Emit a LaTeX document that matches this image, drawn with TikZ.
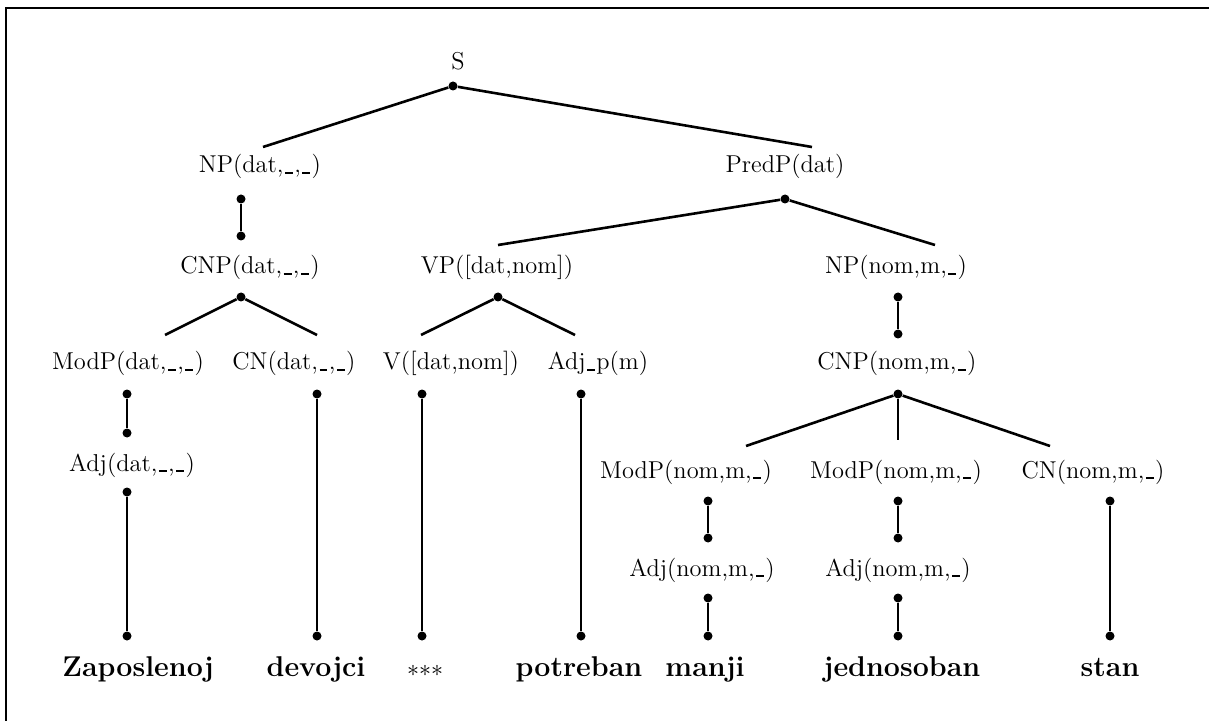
\documentclass[tikz,border=0pt]{standalone}
\newcommand\usc{\kern.06em\rule[-0.03em]{.32em}{.055em}\kern.06em}
\tikzset{
  lbl/.style={anchor=base, inner sep=0pt, font=\fontsize{12.2}{14}\selectfont},
  word/.style={anchor=base, inner sep=0pt, font=\fontsize{14.3}{17}\selectfont\bfseries},
  dotn/.style={circle, fill=black, inner sep=0pt, minimum size=4.5pt},
  edge/.style={line width=1.3pt},
  frame/.style={line width=1.1pt},
}
\begin{document}
\begin{tikzpicture}[x=0.5pt, y=-0.5pt]
\useasboundingbox (0,0) rectangle (1209,721);
% frame (top and left edges)
\coordinate (fTR) at (1209,8);
\coordinate (fTL) at (6,8);
\coordinate (fBL) at (6,721);
\draw[frame] (fTR) -- (fTL) -- (fBL);

% labels
\node[lbl] (S) at (458,70) {S};
\node[lbl] (NPd) at (260,173) {NP(dat,\usc,\usc)};
\node[lbl] (PredP) at (785,173) {PredP(dat)};
\node[lbl] (CNPd) at (250,274) {CNP(dat,\usc,\usc)};
\node[lbl] (VP) at (497,274) {VP([dat,nom])};
\node[lbl] (NPn) at (896,274) {NP(nom,m,\usc)};
\node[lbl] (ModPd) at (128,370) {ModP(dat,\usc,\usc)};
\node[lbl] (CNd) at (294,370) {CN(dat,\usc,\usc)};
\node[lbl] (V) at (451,370) {V([dat,nom])};
\node[lbl] (Adjp) at (598,370) {Adj\usc p(m)};
\node[lbl] (CNPn) at (897,370) {CNP(nom,m,\usc)};
\node[lbl] (Adjd) at (132,471) {Adj(dat,\usc,\usc)};
\node[lbl] (ModPa) at (686,478) {ModP(nom,m,\usc)};
\node[lbl] (ModPb) at (896,478) {ModP(nom,m,\usc)};
\node[lbl] (CNn) at (1093,478) {CN(nom,m,\usc)};
\node[lbl] (Adja) at (702,576) {Adj(nom,m,\usc)};
\node[lbl] (Adjb) at (898,576) {Adj(nom,m,\usc)};

% words
\node[word] (w1) at (138,676) {Zaposlenoj};
\node[word] (w2) at (316,676) {devojci};
\node[lbl]  (w3) at (425,676) {$\mathord{*}\mathord{*}\mathord{*}$};
\node[word] (w4) at (579,676) {potreban};
\node[word] (w5) at (705,676) {manji};
\node[word] (w6) at (902,676) {jednosoban};
\node[word] (w7) at (1110,676) {stan};

% dots
\node[dotn] (dS) at (453,86) {};
\node[dotn] (dNPd1) at (241,199) {};
\node[dotn] (dNPd2) at (241,236) {};
\node[dotn] (dCNPd) at (241,297) {};
\node[dotn] (dModPd1) at (127,394) {};
\node[dotn] (dModPd2) at (127,433) {};
\node[dotn] (dAdjd1) at (127,492) {};
\node[dotn] (dAdjd2) at (127,636) {};
\node[dotn] (dCNd1) at (317,394) {};
\node[dotn] (dCNd2) at (317,636) {};
\node[dotn] (dPredP) at (785,199) {};
\node[dotn] (dVP) at (498,297) {};
\node[dotn] (dV1) at (422,394) {};
\node[dotn] (dV2) at (422,636) {};
\node[dotn] (dAdjp1) at (581,394) {};
\node[dotn] (dAdjp2) at (581,636) {};
\node[dotn] (dNPn1) at (898,297) {};
\node[dotn] (dNPn2) at (898,334) {};
\node[dotn] (dCNPn) at (898,394) {};
\node[dotn] (dModPa1) at (708,501) {};
\node[dotn] (dModPa2) at (708,538) {};
\node[dotn] (dAdja1) at (708,598) {};
\node[dotn] (dAdja2) at (708,636) {};
\node[dotn] (dModPb1) at (898,501) {};
\node[dotn] (dModPb2) at (898,538) {};
\node[dotn] (dAdjb1) at (898,598) {};
\node[dotn] (dAdjb2) at (898,636) {};
\node[dotn] (dCNn1) at (1110,501) {};
\node[dotn] (dCNn2) at (1110,636) {};

% free line ends
\coordinate (eSl) at (263,147);
\coordinate (eSr) at (812,147);
\coordinate (ePl) at (498,245);
\coordinate (ePr) at (935,245);
\coordinate (eCdl) at (165,335);
\coordinate (eCdr) at (317,335);
\coordinate (eVl) at (421,335);
\coordinate (eVr) at (575,335);
\coordinate (eCnl) at (746,446);
\coordinate (eCnm) at (898,440);
\coordinate (eCnr) at (1050,446);

% connectors
\draw[edge] (eSl) -- (dS) -- (eSr);
\draw[edge] (dNPd1) -- (dNPd2);
\draw[edge] (eCdl) -- (dCNPd) -- (eCdr);
\draw[edge] (dModPd1) -- (dModPd2);
\draw[edge] (dAdjd1) -- (dAdjd2);
\draw[edge] (dCNd1) -- (dCNd2);
\draw[edge] (ePl) -- (dPredP) -- (ePr);
\draw[edge] (eVl) -- (dVP) -- (eVr);
\draw[edge] (dV1) -- (dV2);
\draw[edge] (dAdjp1) -- (dAdjp2);
\draw[edge] (dNPn1) -- (dNPn2);
\draw[edge] (eCnl) -- (dCNPn) -- (eCnr);
\draw[edge] (dCNPn) -- (eCnm);
\draw[edge] (dModPa1) -- (dModPa2);
\draw[edge] (dAdja1) -- (dAdja2);
\draw[edge] (dModPb1) -- (dModPb2);
\draw[edge] (dAdjb1) -- (dAdjb2);
\draw[edge] (dCNn1) -- (dCNn2);
\end{tikzpicture}
\end{document}
